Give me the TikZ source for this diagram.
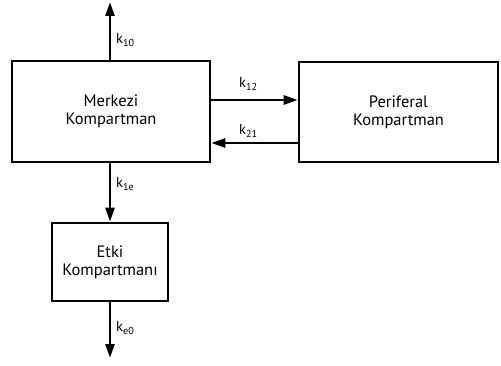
\documentclass[tikz,border=0pt]{standalone}
\usepackage{fontspec}
\setmainfont{PT Sans}
\usetikzlibrary{arrows.meta}
\begin{document}
\begin{tikzpicture}[x=1pt,y=-1pt,
  box/.style={draw, line width=2.6pt, inner sep=0pt, font=\fontsize{16.5}{18}\selectfont, align=center},
  flow/.style={line width=2.6pt, -{Triangle[length=14pt,width=9pt]}},
  klab/.style={font=\fontsize{14.5}{16}\selectfont, inner sep=0pt}]
\useasboundingbox (0,0) rectangle (501,366);
\node[box, minimum width=198pt, minimum height=101pt] (mk) at (111,111.5) {Merkezi\\Kompartman};
\node[box, minimum width=199pt, minimum height=100pt] (pk) at (398.5,112) {Periferal\\Kompartman};
\node[box, minimum width=116pt, minimum height=78pt] (ek) at (110,262) {Etki\\Kompartmanı};
\coordinate (top) at (110,2);
\coordinate (bot) at (110,358);
\draw[flow] (mk.north -| top) -- (top);
\draw[flow] (mk.east |- 0,100) -- (pk.west |- 0,100);
\draw[flow] (pk.west |- 0,143) -- (mk.east |- 0,143);
\draw[flow] (mk.south -| ek.north) -- (ek.north);
\draw[flow] (ek.south) -- (bot);
\node[klab, anchor=west] (k10) at (116,40) {k\textsubscript{10}};
\node[klab, anchor=west] (k12) at (239,84) {k\textsubscript{12}};
\node[klab, anchor=west] (k21) at (239,131) {k\textsubscript{21}};
\node[klab, anchor=west] (k1e) at (116,184) {k\textsubscript{1e}};
\node[klab, anchor=west] (ke0) at (116,328) {k\textsubscript{e0}};
\end{tikzpicture}
\end{document}
